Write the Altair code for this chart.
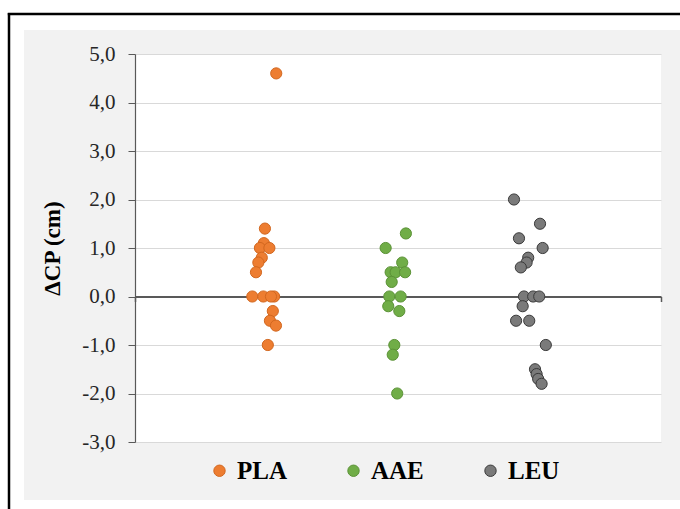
import altair as alt
import pandas as pd

groups = ["PLA", "AAE", "LEU"]
fills = ["#ED7D31", "#70AD47", "#7A7A7A"]
strokes = ["#D2671F", "#5B9236", "#3A3A3A"]

pla_x = [0.537, 0.494, 0.490, 0.475, 0.511, 0.482, 0.469, 0.460, 0.446, 0.488, 0.529, 0.517, 0.524, 0.513, 0.536, 0.505]
pla_y = [4.6, 1.4, 1.1, 1.0, 1.0, 0.8, 0.7, 0.5, 0.0, 0.0, 0.0, 0.0, -0.3, -0.5, -0.6, -1.0]

aae_x = [1.030, 0.953, 1.016, 0.972, 0.991, 1.027, 0.976, 0.967, 1.010, 0.963, 1.005, 0.986, 0.980, 0.997]
aae_y = [1.3, 1.0, 0.7, 0.5, 0.5, 0.5, 0.3, 0.0, 0.0, -0.2, -0.3, -1.0, -1.2, -2.0]

leu_x = [1.441, 1.540, 1.460, 1.550, 1.495, 1.489, 1.467, 1.479, 1.514, 1.537, 1.474, 1.449, 1.499, 1.562, 1.521, 1.527, 1.533, 1.546]
leu_y = [2.0, 1.5, 1.2, 1.0, 0.8, 0.7, 0.6, 0.0, 0.0, 0.0, -0.2, -0.5, -0.5, -1.0, -1.5, -1.6, -1.7, -1.8]

y_ticks = [-3, -2, -1, 0, 1, 2, 3, 4, 5]

rows = []
for g, xs, ys in [("PLA", pla_x, pla_y), ("AAE", aae_x, aae_y), ("LEU", leu_x, leu_y)]:
    for i, (xv, yv) in enumerate(zip(xs, ys)):
        rows.append({"group": g, "x": xv, "y": yv, "order": len(rows)})
df = pd.DataFrame(rows)

W, H = 526, 388
SERIF = "Liberation Serif"

one = alt.Data(values=[{"a": 1}])

# white margins outside the grey chart area + black frame
margin_left = alt.Chart(one).mark_rect(color="white").encode(
    x=alt.value(-135), x2=alt.value(-111), y=alt.value(-54), y2=alt.value(455))
margin_top = alt.Chart(one).mark_rect(color="white").encode(
    x=alt.value(-135), x2=alt.value(545), y=alt.value(-54), y2=alt.value(-24))
margin_bottom = alt.Chart(one).mark_rect(color="white").encode(
    x=alt.value(-135), x2=alt.value(545), y=alt.value(446), y2=alt.value(455))
frame_left = alt.Chart(one).mark_rule(color="black", strokeWidth=2.5).encode(
    x=alt.value(-126), y=alt.value(-41), y2=alt.value(455))
frame_top = alt.Chart(one).mark_rule(color="black", strokeWidth=2.5).encode(
    x=alt.value(-127.2), x2=alt.value(545), y=alt.value(-40))

points = alt.Chart(df).mark_point(filled=True, size=125, opacity=1, strokeWidth=1, shape="circle").encode(
    x=alt.X("x:Q", scale=alt.Scale(domain=[0, 2], nice=False, zero=False),
            axis=alt.Axis(orient="bottom", offset=-145.5, values=[0, 1, 2], labels=False, title=None,
                          grid=False, domainColor="#595959", domainWidth=2, tickColor="#595959",
                          tickSize=5, tickWidth=1.5)),
    y=alt.Y("y:Q", scale=alt.Scale(domain=[-3, 5], nice=False, zero=False),
            axis=alt.Axis(values=y_ticks,
                          labelExpr="replace(replace(format(datum.value, '.1f'), '.', ','), '\u2212', '-')",
                          grid=True, gridColor="#d9d9d9", gridWidth=1,
                          domainColor="#595959", domainWidth=1.2, tickColor="#595959", tickSize=7,
                          labelPadding=13, labelFont=SERIF, labelFontSize=21, labelColor="#262626",
                          title="ΔCP (cm)", titleFont=SERIF, titleFontSize=23, titleFontWeight="bold",
                          titleColor="black", titleAngle=270, titleX=-83, titleY=194,
                          titleAlign="center", titleBaseline="middle")),
    fill=alt.Fill("group:N", scale=alt.Scale(domain=groups, range=fills), title=None),
    stroke=alt.Stroke("group:N", scale=alt.Scale(domain=groups, range=strokes), title=None),
    order=alt.Order("order:Q"),
)

chart = alt.layer(margin_left, margin_top, margin_bottom, frame_left, frame_top, points).properties(
    width=W, height=H,
    autosize=alt.AutoSizeParams(type="none"),
    padding={"left": 135, "top": 54, "right": 19, "bottom": 67},
    background="#f2f2f2",
).configure_view(fill="white", stroke=None).configure_legend(
    orient="none", legendX=72, legendY=404, direction="horizontal",
    symbolType="circle", symbolSize=130, symbolStrokeWidth=1, padding=0,
    labelFont=SERIF, labelFontSize=25, labelFontWeight="bold", labelColor="black",
    labelOffset=5, columnPadding=54, symbolOpacity=1,
)

chart.save("out.html", embed_options={"renderer": "svg", "actions": False})
